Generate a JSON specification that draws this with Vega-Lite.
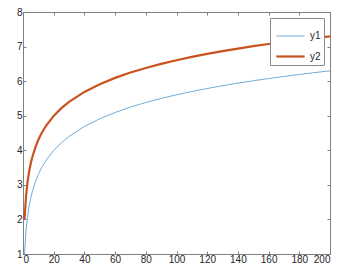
{
  "$schema": "https://vega.github.io/schema/vega-lite/v6.json",
  "width": 307,
  "height": 242,
  "autosize": "none",
  "padding": {"left": 23, "top": 12, "right": 18, "bottom": 18},
  "background": "white",
  "config": {
    "view": {"stroke": "#7f7f7f", "strokeWidth": 1},
    "font": "Liberation Sans",
    "axis": {
      "grid": false,
      "domainColor": "#7f7f7f",
      "tickColor": "#7f7f7f",
      "tickSize": -3,
      "labelColor": "#262626",
      "labelFontSize": 10,
      "labelFont": "Liberation Sans",
      "title": null
    }
  },
  "data": {
    "values": [
      {"x": 1, "y": 1.0, "s": "y1"}, {"x": 2, "y": 1.693, "s": "y1"}, {"x": 3, "y": 2.099, "s": "y1"}, {"x": 4, "y": 2.386, "s": "y1"}, {"x": 5, "y": 2.609, "s": "y1"}, {"x": 6, "y": 2.792, "s": "y1"}, {"x": 8, "y": 3.079, "s": "y1"}, {"x": 10, "y": 3.303, "s": "y1"}, {"x": 12, "y": 3.485, "s": "y1"}, {"x": 15, "y": 3.708, "s": "y1"}, {"x": 20, "y": 3.996, "s": "y1"}, {"x": 25, "y": 4.219, "s": "y1"}, {"x": 30, "y": 4.401, "s": "y1"}, {"x": 40, "y": 4.689, "s": "y1"}, {"x": 50, "y": 4.912, "s": "y1"}, {"x": 60, "y": 5.094, "s": "y1"}, {"x": 70, "y": 5.249, "s": "y1"}, {"x": 80, "y": 5.382, "s": "y1"}, {"x": 90, "y": 5.5, "s": "y1"}, {"x": 100, "y": 5.605, "s": "y1"}, {"x": 110, "y": 5.7, "s": "y1"}, {"x": 120, "y": 5.787, "s": "y1"}, {"x": 130, "y": 5.868, "s": "y1"}, {"x": 140, "y": 5.942, "s": "y1"}, {"x": 150, "y": 6.011, "s": "y1"}, {"x": 160, "y": 6.075, "s": "y1"}, {"x": 170, "y": 6.136, "s": "y1"}, {"x": 180, "y": 6.193, "s": "y1"}, {"x": 190, "y": 6.247, "s": "y1"}, {"x": 200, "y": 6.298, "s": "y1"},
      {"x": 1, "y": 2.0, "s": "y2"}, {"x": 2, "y": 2.693, "s": "y2"}, {"x": 3, "y": 3.099, "s": "y2"}, {"x": 4, "y": 3.386, "s": "y2"}, {"x": 5, "y": 3.609, "s": "y2"}, {"x": 6, "y": 3.792, "s": "y2"}, {"x": 8, "y": 4.079, "s": "y2"}, {"x": 10, "y": 4.303, "s": "y2"}, {"x": 12, "y": 4.485, "s": "y2"}, {"x": 15, "y": 4.708, "s": "y2"}, {"x": 20, "y": 4.996, "s": "y2"}, {"x": 25, "y": 5.219, "s": "y2"}, {"x": 30, "y": 5.401, "s": "y2"}, {"x": 40, "y": 5.689, "s": "y2"}, {"x": 50, "y": 5.912, "s": "y2"}, {"x": 60, "y": 6.094, "s": "y2"}, {"x": 70, "y": 6.249, "s": "y2"}, {"x": 80, "y": 6.382, "s": "y2"}, {"x": 90, "y": 6.5, "s": "y2"}, {"x": 100, "y": 6.605, "s": "y2"}, {"x": 110, "y": 6.7, "s": "y2"}, {"x": 120, "y": 6.787, "s": "y2"}, {"x": 130, "y": 6.868, "s": "y2"}, {"x": 140, "y": 6.942, "s": "y2"}, {"x": 150, "y": 7.011, "s": "y2"}, {"x": 160, "y": 7.075, "s": "y2"}, {"x": 170, "y": 7.136, "s": "y2"}, {"x": 180, "y": 7.193, "s": "y2"}, {"x": 190, "y": 7.247, "s": "y2"}, {"x": 200, "y": 7.298, "s": "y2"}
    ]
  },
  "layer": [
    {
      "mark": {"type": "line", "clip": true},
      "encoding": {
        "x": {"field": "x", "type": "quantitative", "scale": {"domain": [0, 200], "nice": false},
              "axis": {"orient": "bottom", "values": [0, 20, 40, 60, 80, 100, 120, 140, 160, 180, 200], "labelPadding": 3}},
        "y": {"field": "y", "type": "quantitative", "scale": {"domain": [1, 8], "nice": false, "zero": false},
              "axis": {"orient": "left", "values": [1, 2, 3, 4, 5, 6, 7, 8], "labelPadding": 4}},
        "color": {"field": "s", "type": "nominal",
                  "scale": {"domain": ["y1", "y2"], "range": ["#4a98cc", "#c9531f"]},
                  "legend": {"orient": "top-right", "offset": 6, "title": null, "symbolType": "stroke",
                             "symbolSize": 800, "symbolStrokeWidth": 1.5, "strokeColor": "#8a8a8a", "fillColor": "white",
                             "padding": 3, "labelFontSize": 10, "labelColor": "#262626", "rowPadding": 0, "symbolOffset": 2}},
        "strokeWidth": {"field": "s", "type": "nominal", "scale": {"domain": ["y1", "y2"], "range": [0.8, 2.2]}, "legend": null}
      }
    },
    {
      "mark": {"type": "line", "opacity": 0},
      "encoding": {
        "x": {"field": "x", "type": "quantitative", "axis": {"orient": "top", "values": [0, 20, 40, 60, 80, 100, 120, 140, 160, 180, 200], "labels": false}},
        "y": {"field": "y", "type": "quantitative", "axis": {"orient": "right", "values": [1, 2, 3, 4, 5, 6, 7, 8], "labels": false}},
        "detail": {"field": "s"}
      }
    }
  ],
  "resolve": {"axis": {"x": "independent", "y": "independent"}}
}
